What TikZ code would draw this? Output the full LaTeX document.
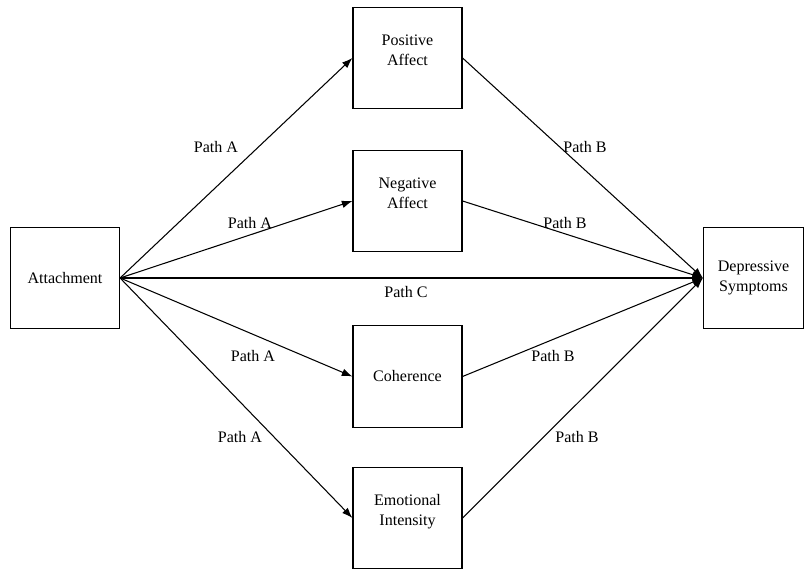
\documentclass[tikz,border=0pt]{standalone}
\usepackage{fontspec}
\setmainfont{Liberation Serif}
\usetikzlibrary{arrows.meta}
\begin{document}
\begin{tikzpicture}[x=0.03cm,y=-0.03cm,
		box/.style={draw,line width=1pt,minimum width=3.27cm,minimum height=3.05cm,inner sep=0pt,align=center,font=\fontsize{13.7}{17}\selectfont},
		raised/.style={text depth=13pt},
		lab/.style={font=\fontsize{13.7}{17}\selectfont,inner sep=0pt},
		arr/.style={-{Latex[length=9pt,width=6.5pt]},line width=0.9pt}]
	\useasboundingbox (0,0) rectangle (805,572);
	\node[box] (att) at (65,278) {Attachment};
	\node[box,raised] (pos) at (407.5,58) {Positive\\Affect};
	\node[box,raised] (neg) at (407.5,201) {Negative\\Affect};
	\node[box] (coh) at (407.5,376.5) {Coherence};
	\node[box,raised] (emo) at (407.5,518) {Emotional\\Intensity};
	\node[box,minimum width=3.0cm] (dep) at (753.5,278) {Depressive\\Symptoms};
	\foreach \m in {pos,neg,coh,emo} {
		\draw[arr] (att.east) -- (\m.west);
		\draw[arr] (\m.east) -- (dep.west);
	}
	\draw[arr] (att.east) -- (dep.west);
	% path labels
	\node[lab] (pa1) at (216,147) {Path A}; \node[lab] (pb1) at (585,147) {Path B};
	\node[lab] (pa2) at (250,223) {Path A}; \node[lab] (pb2) at (565,223) {Path B};
	\node[lab] (pc) at (406,292) {Path C};
	\node[lab] (pa3) at (253,356) {Path A}; \node[lab] (pb3) at (553,356) {Path B};
	\node[lab] (pa4) at (240,437) {Path A}; \node[lab] (pb4) at (577,437) {Path B};
\end{tikzpicture}
\end{document}
